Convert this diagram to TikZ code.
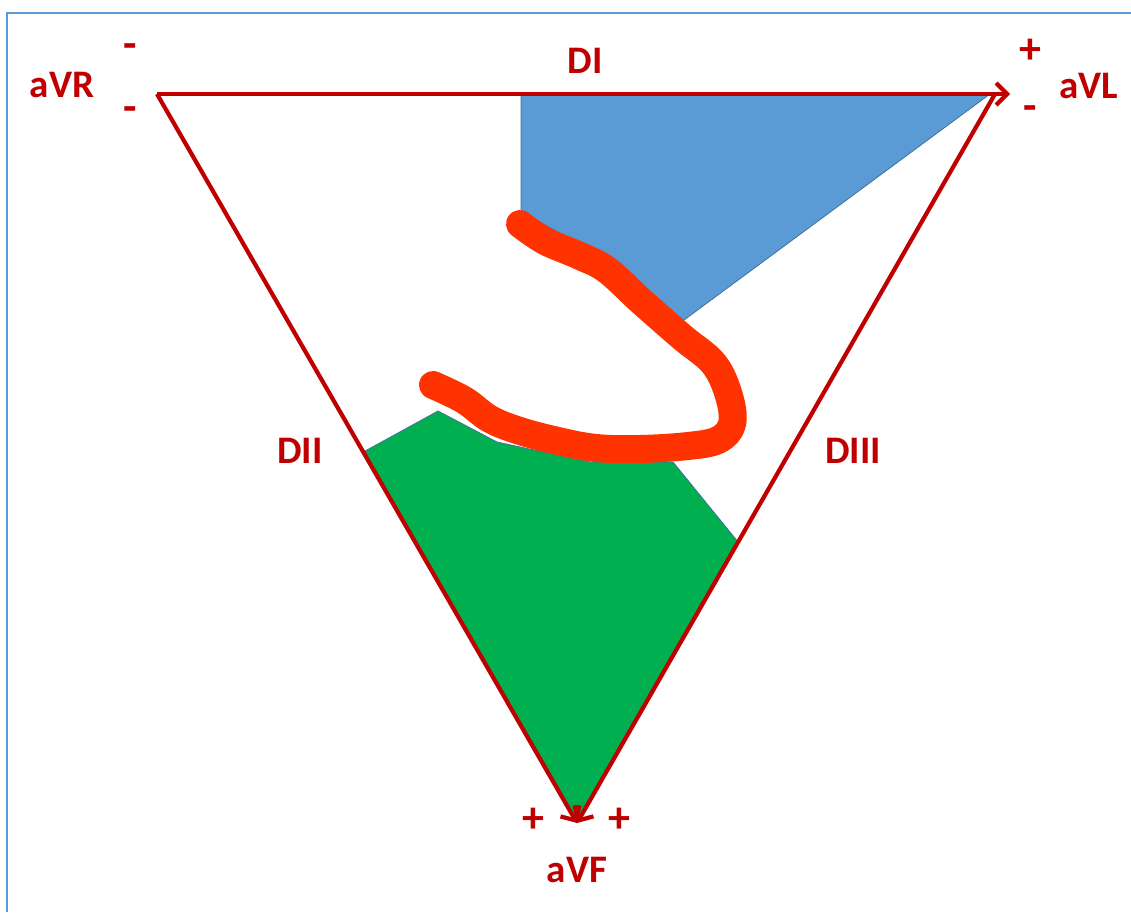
\documentclass[tikz,border=0pt]{standalone}
\usepackage{fontspec}
\setmainfont{Carlito}
\usetikzlibrary{arrows.meta}
\definecolor{lead}{HTML}{C00000}
\definecolor{frameblue}{HTML}{5B9BD5}
\definecolor{zoneblue}{HTML}{5B9BD5}
\definecolor{zonegreen}{HTML}{00B050}
\definecolor{zoneedge}{HTML}{41719C}
\definecolor{wave}{HTML}{FF3300}
\tikzset{
  leadline/.style={draw=lead, line width=4.2pt, -{Straight Barb[length=11pt,width=22pt,line width=4.2pt]}},
  lbl/.style={text=lead, font=\fontsize{39}{44}\selectfont\bfseries, inner sep=0pt},
  sgn/.style={text=lead, font=\fontsize{44}{48}\selectfont\bfseries, inner sep=0pt},
}
\begin{document}
\begin{tikzpicture}[x=1pt,y=-1pt]
\useasboundingbox (0,0) rectangle (1131,912);
% frame
\draw[frameblue, line width=2.2pt] (7,912) -- (7,13) -- (1131,13);
% vertices
\coordinate (RA) at (157,94);
\coordinate (LA) at (995,94);
\coordinate (LAtip) at (1010,94);
\coordinate (LL) at (577,823);
% zones
\fill[zoneblue] (521,94) -- (990,94) -- (680,323) -- (605,258) -- (521,212) -- cycle;
\draw[zoneedge, line width=0.8pt] (990,94) -- (680,323) -- (605,258) -- (521,212) -- (521,94);
\fill[zonegreen] (363.3,452) -- (438,411) -- (497,442) -- (590,462) -- (673,462) -- (738.1,542) -- (LL) -- cycle;
\draw[zoneedge, line width=0.8pt] (363.3,452) -- (438,411) -- (497,442) -- (590,462) -- (673,462) -- (738.1,542);
% red wave
\draw[wave, line width=28pt, line cap=round, line join=round]
  plot[smooth, tension=0.6] coordinates {(520,224) (545,241) (580,256) (607,270) (642,302) (682,337) (714,364) (729,396) (732,424) (718,440) (688,446) (640,449) (596,448) (558,441) (520,431) (490,419) (464,400) (433,385)};
% leads
\draw[leadline] (RA) -- (LAtip);
\draw[leadline] (RA) -- (LL);
\draw[leadline] (LA) -- (LL);
% labels
\node[lbl] (DI) at (585,61) {DI};
\node[lbl] (DII) at (300,451) {DII};
\node[lbl] (DIII) at (853,451) {DIII};
\node[lbl] (aVR) at (62,85) {aVR};
\node[lbl] (aVL) at (1089,86) {aVL};
\node[lbl] (aVF) at (577,870) {aVF};
\node[sgn] (m1) at (130,51) {-};
\node[sgn] (m2) at (130,114) {-};
\node[sgn] (p1) at (1030,51) {+};
\node[sgn] (m3) at (1030,113) {-};
\node[sgn] (p2) at (533,820) {+};
\node[sgn] (p3) at (619,820) {+};
\end{tikzpicture}
\end{document}
